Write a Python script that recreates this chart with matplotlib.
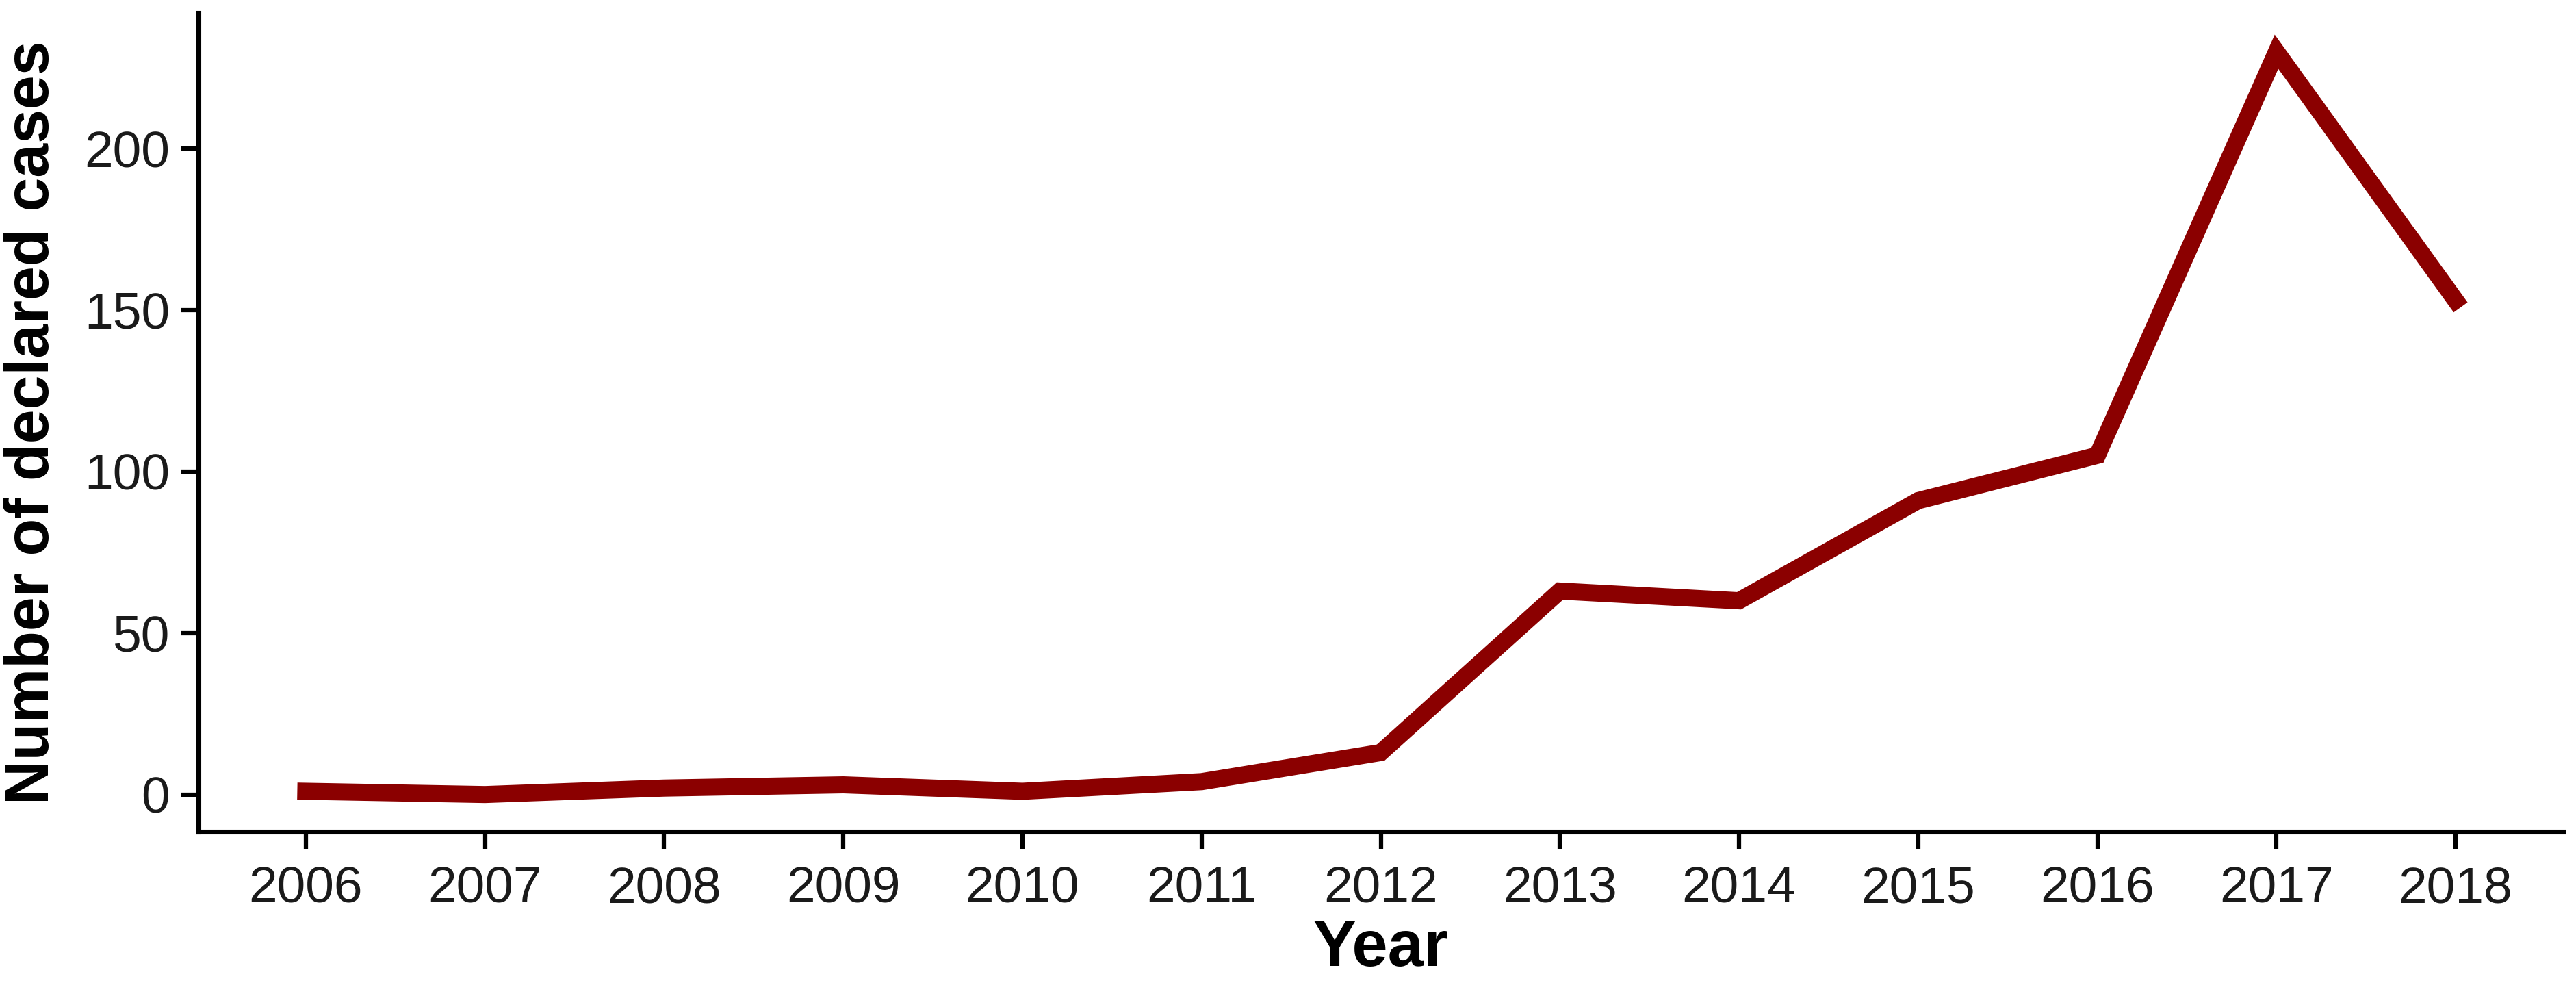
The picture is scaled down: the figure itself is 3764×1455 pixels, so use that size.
import matplotlib
matplotlib.use("Agg")
import matplotlib.pyplot as plt

# values
years = [2006, 2007, 2008, 2009, 2010, 2011, 2012, 2013, 2014, 2015, 2016, 2017, 2018]
cases = [1, 0, 2, 3, 1, 4, 13, 63, 60, 91, 105, 230, 153]
yticks = [0, 50, 100, 150, 200]

plt.rcParams['font.family'] = ['Liberation Sans', 'DejaVu Sans']

fig = plt.figure(figsize=(3764 / 300, 1455 / 300), dpi=300)
ax = fig.add_axes([0.077, 0.165, 0.918, 0.822])

ax.plot(years, cases, color='#8B0000', linewidth=6, solid_joinstyle='miter')

ax.set_xlim(2005.4, 2018.6)
ax.set_ylim(-11.5, 242)
ax.set_xticks(years)
ax.set_yticks(yticks)

for s in ['top', 'right']:
    ax.spines[s].set_visible(False)
for s in ['left', 'bottom']:
    ax.spines[s].set_linewidth(1.7)
ax.tick_params(axis='both', length=6, width=1.5, labelsize=18, colors='black',
               labelcolor='#1a1a1a', pad=4)
ax.tick_params(axis='x', pad=6)

ax.set_xlabel('Year', fontsize=22.5, fontweight='bold', labelpad=2)
ax.set_ylabel('Number of declared cases', fontsize=21.5, fontweight='bold', labelpad=8)

fig.savefig('out.png', dpi=300)
